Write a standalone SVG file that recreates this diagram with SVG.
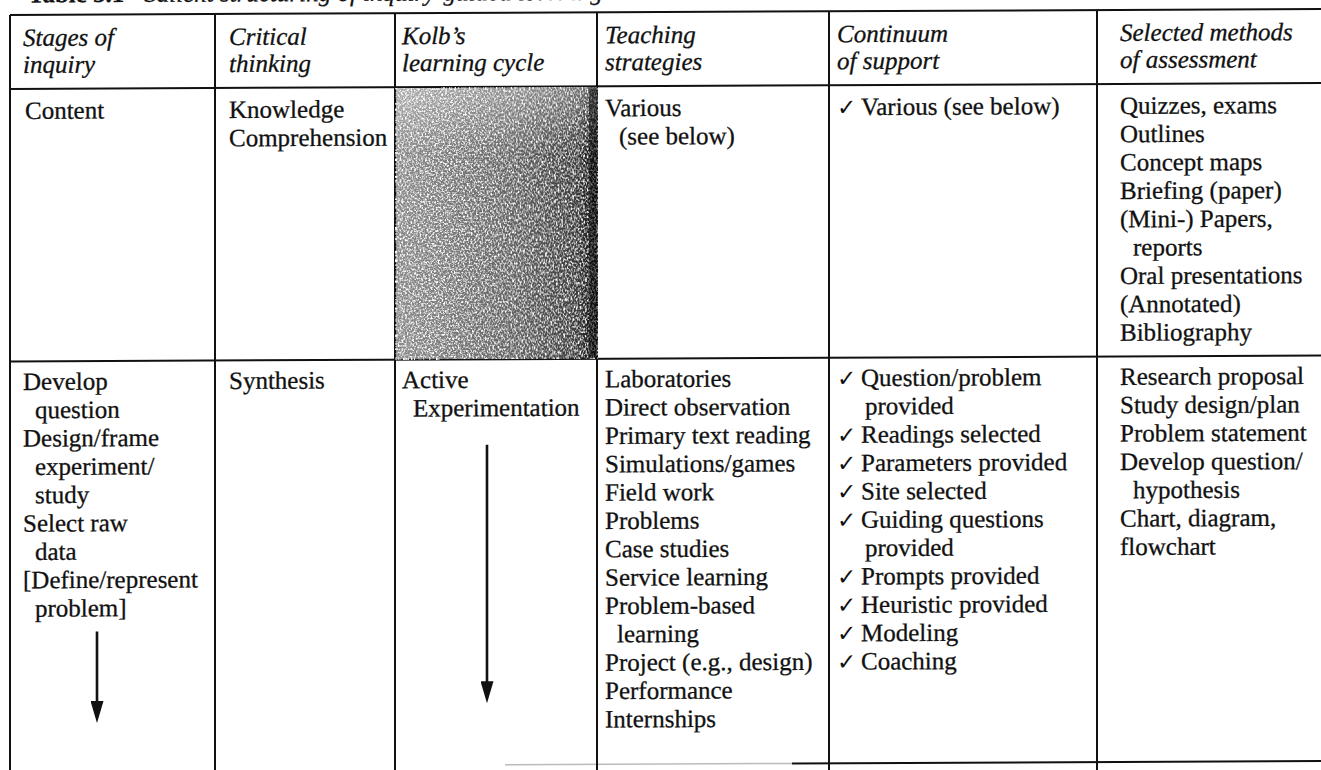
<svg xmlns="http://www.w3.org/2000/svg" width="1321" height="770" viewBox="0 0 1321 770">
<defs>
<style>
.t{font-family:"Liberation Serif","DejaVu Serif",serif;font-size:25px;fill:#111;stroke:#111;stroke-width:0.3}
.h{font-style:italic}
.ck{font-family:"DejaVu Sans",sans-serif;font-size:23px;font-weight:bold;fill:#111}
.ln{stroke:#111;stroke-width:2;fill:none}
.ar{stroke:#111;stroke-width:2.6;fill:none}
</style>
<marker id="ah" viewBox="0 0 22 13" refX="11" refY="6.5" markerWidth="22" markerHeight="13" markerUnits="userSpaceOnUse" orient="auto">
<path d="M0,0 L22,6.5 L0,13 z" fill="#111"/>
</marker>
<linearGradient id="kg" x1="0" y1="0" x2="1" y2="0">
<stop offset="0" stop-color="#8c8c8c"/>
<stop offset="0.6" stop-color="#626262"/>
<stop offset="0.9" stop-color="#3c3c3c"/>
<stop offset="1" stop-color="#080808"/>
</linearGradient>
<linearGradient id="kv" x1="0" y1="0" x2="0" y2="1">
<stop offset="0" stop-color="#fff" stop-opacity="0.3"/>
<stop offset="0.25" stop-color="#fff" stop-opacity="0"/>
<stop offset="1" stop-color="#fff" stop-opacity="0"/>
</linearGradient>
<filter id="speck" x="0" y="0" width="1" height="1">
<feTurbulence type="fractalNoise" baseFrequency="0.55" numOctaves="2" seed="7"/>
<feColorMatrix type="matrix" values="0 0 0 0 1  0 0 0 0 1  0 0 0 0 1  3.4 0 0 0 -1.45"/>
</filter>
</defs>
<rect width="1321" height="770" fill="#fff"/>
<g transform="skewY(-0.26)">
<g id="title">
<text class="t" x="28" y="2.5"><tspan font-weight="bold">Table 5.1</tspan><tspan class="h" dx="20">Salient structuring of inquiry-guided learning</tspan></text>
</g>
<g id="grid">
<line class="ln" x1="10" y1="15" x2="1321" y2="15"/>
<line class="ln" x1="10" y1="89" x2="1321" y2="89"/>
<line class="ln" x1="10" y1="361.5" x2="1321" y2="361.5"/>
<line x1="505" y1="767" x2="792" y2="767" stroke="#bbb" stroke-width="1.5"/>
<line class="ln" x1="792" y1="767" x2="1321" y2="767"/>
<line class="ln" x1="10" y1="15" x2="10" y2="775"/>
<line class="ln" x1="215" y1="15" x2="215" y2="775"/>
<line class="ln" x1="395" y1="15" x2="395" y2="775"/>
<line class="ln" x1="597" y1="15" x2="597" y2="775"/>
<line class="ln" x1="829" y1="15" x2="829" y2="775"/>
<line class="ln" x1="1097" y1="15" x2="1097" y2="775"/>
</g>
<g id="kolb-shade">
<rect x="396" y="90" width="201" height="271" fill="url(#kg)"/>
<rect x="396" y="90" width="201" height="271" fill="#fff" filter="url(#speck)"/>
<rect x="396" y="90" width="201" height="271" fill="url(#kv)"/>
<rect x="589" y="90" width="8" height="271" fill="#111" opacity="0.55"/>
</g>
<g id="header">
<text class="t h" x="23" y="46">Stages of</text>
<text class="t h" x="23" y="73">inquiry</text>
<text class="t h" x="229" y="46">Critical</text>
<text class="t h" x="229" y="73">thinking</text>
<text class="t h" x="402" y="46">Kolb’s</text>
<text class="t h" x="402" y="73">learning cycle</text>
<text class="t h" x="605" y="46">Teaching</text>
<text class="t h" x="605" y="73">strategies</text>
<text class="t h" x="837" y="46">Continuum</text>
<text class="t h" x="837" y="73">of support</text>
<text class="t h" x="1120" y="46">Selected methods</text>
<text class="t h" x="1120" y="73">of assessment</text>
</g>
<g id="row-content">
<text class="t" x="25" y="119">Content</text>
<text class="t" x="229" y="119">Knowledge</text>
<text class="t" x="229" y="147.35">Comprehension</text>
<text class="t" x="605" y="119">Various</text>
<text class="t" x="619" y="147.35">(see below)</text>
<text class="ck" x="837" y="119">✓</text>
<text class="t" x="861" y="119">Various (see below)</text>
<text class="t" x="1120" y="119">Quizzes, exams</text>
<text class="t" x="1120" y="147.35">Outlines</text>
<text class="t" x="1120" y="175.7">Concept maps</text>
<text class="t" x="1120" y="204.05">Briefing (paper)</text>
<text class="t" x="1120" y="232.4">(Mini-) Papers,</text>
<text class="t" x="1133" y="260.75">reports</text>
<text class="t" x="1120" y="289.1">Oral presentations</text>
<text class="t" x="1120" y="317.45">(Annotated)</text>
<text class="t" x="1120" y="345.8">Bibliography</text>
</g>
<g id="row-develop-stages">
<text class="t" x="23" y="390">Develop</text>
<text class="t" x="35" y="418.35">question</text>
<text class="t" x="23" y="446.7">Design/frame</text>
<text class="t" x="35" y="475.05">experiment/</text>
<text class="t" x="35" y="503.4">study</text>
<text class="t" x="23" y="531.75">Select raw</text>
<text class="t" x="35" y="560.1">data</text>
<text class="t" x="23" y="588.45">[Define/represent</text>
<text class="t" x="35" y="616.8">problem]</text>
</g>
<g id="row-develop-critical">
<text class="t" x="229" y="390">Synthesis</text>
</g>
<g id="row-develop-kolb">
<text class="t" x="402" y="390">Active</text>
<text class="t" x="413" y="418.35">Experimentation</text>
</g>
<g id="row-develop-teaching">
<text class="t" x="605" y="390">Laboratories</text>
<text class="t" x="605" y="418.35">Direct observation</text>
<text class="t" x="605" y="446.7">Primary text reading</text>
<text class="t" x="605" y="475.05">Simulations/games</text>
<text class="t" x="605" y="503.4">Field work</text>
<text class="t" x="605" y="531.75">Problems</text>
<text class="t" x="605" y="560.1">Case studies</text>
<text class="t" x="605" y="588.45">Service learning</text>
<text class="t" x="605" y="616.8">Problem-based</text>
<text class="t" x="617" y="645.15">learning</text>
<text class="t" x="605" y="673.5">Project (e.g., design)</text>
<text class="t" x="605" y="701.85">Performance</text>
<text class="t" x="605" y="730.2">Internships</text>
</g>
<g id="row-develop-support">
<text class="ck" x="837" y="390">✓</text>
<text class="t" x="861" y="390">Question/problem</text>
<text class="t" x="865" y="418.35">provided</text>
<text class="ck" x="837" y="446.7">✓</text>
<text class="t" x="861" y="446.7">Readings selected</text>
<text class="ck" x="837" y="475.05">✓</text>
<text class="t" x="861" y="475.05">Parameters provided</text>
<text class="ck" x="837" y="503.4">✓</text>
<text class="t" x="861" y="503.4">Site selected</text>
<text class="ck" x="837" y="531.75">✓</text>
<text class="t" x="861" y="531.75">Guiding questions</text>
<text class="t" x="865" y="560.1">provided</text>
<text class="ck" x="837" y="588.45">✓</text>
<text class="t" x="861" y="588.45">Prompts provided</text>
<text class="ck" x="837" y="616.8">✓</text>
<text class="t" x="861" y="616.8">Heuristic provided</text>
<text class="ck" x="837" y="645.15">✓</text>
<text class="t" x="861" y="645.15">Modeling</text>
<text class="ck" x="837" y="673.5">✓</text>
<text class="t" x="861" y="673.5">Coaching</text>
</g>
<g id="row-develop-assessment">
<text class="t" x="1120" y="390">Research proposal</text>
<text class="t" x="1120" y="418.35">Study design/plan</text>
<text class="t" x="1120" y="446.7">Problem statement</text>
<text class="t" x="1120" y="475.05">Develop question/</text>
<text class="t" x="1133" y="503.4">hypothesis</text>
<text class="t" x="1120" y="531.75">Chart, diagram,</text>
<text class="t" x="1120" y="560.1">flowchart</text>
</g>
<g id="connectors">
<line class="ar" x1="97" y1="632" x2="97" y2="712.5" marker-end="url(#ah)"/>
<line class="ar" x1="487" y1="447" x2="487" y2="694.5" marker-end="url(#ah)"/>
</g>
</g>
</svg>
